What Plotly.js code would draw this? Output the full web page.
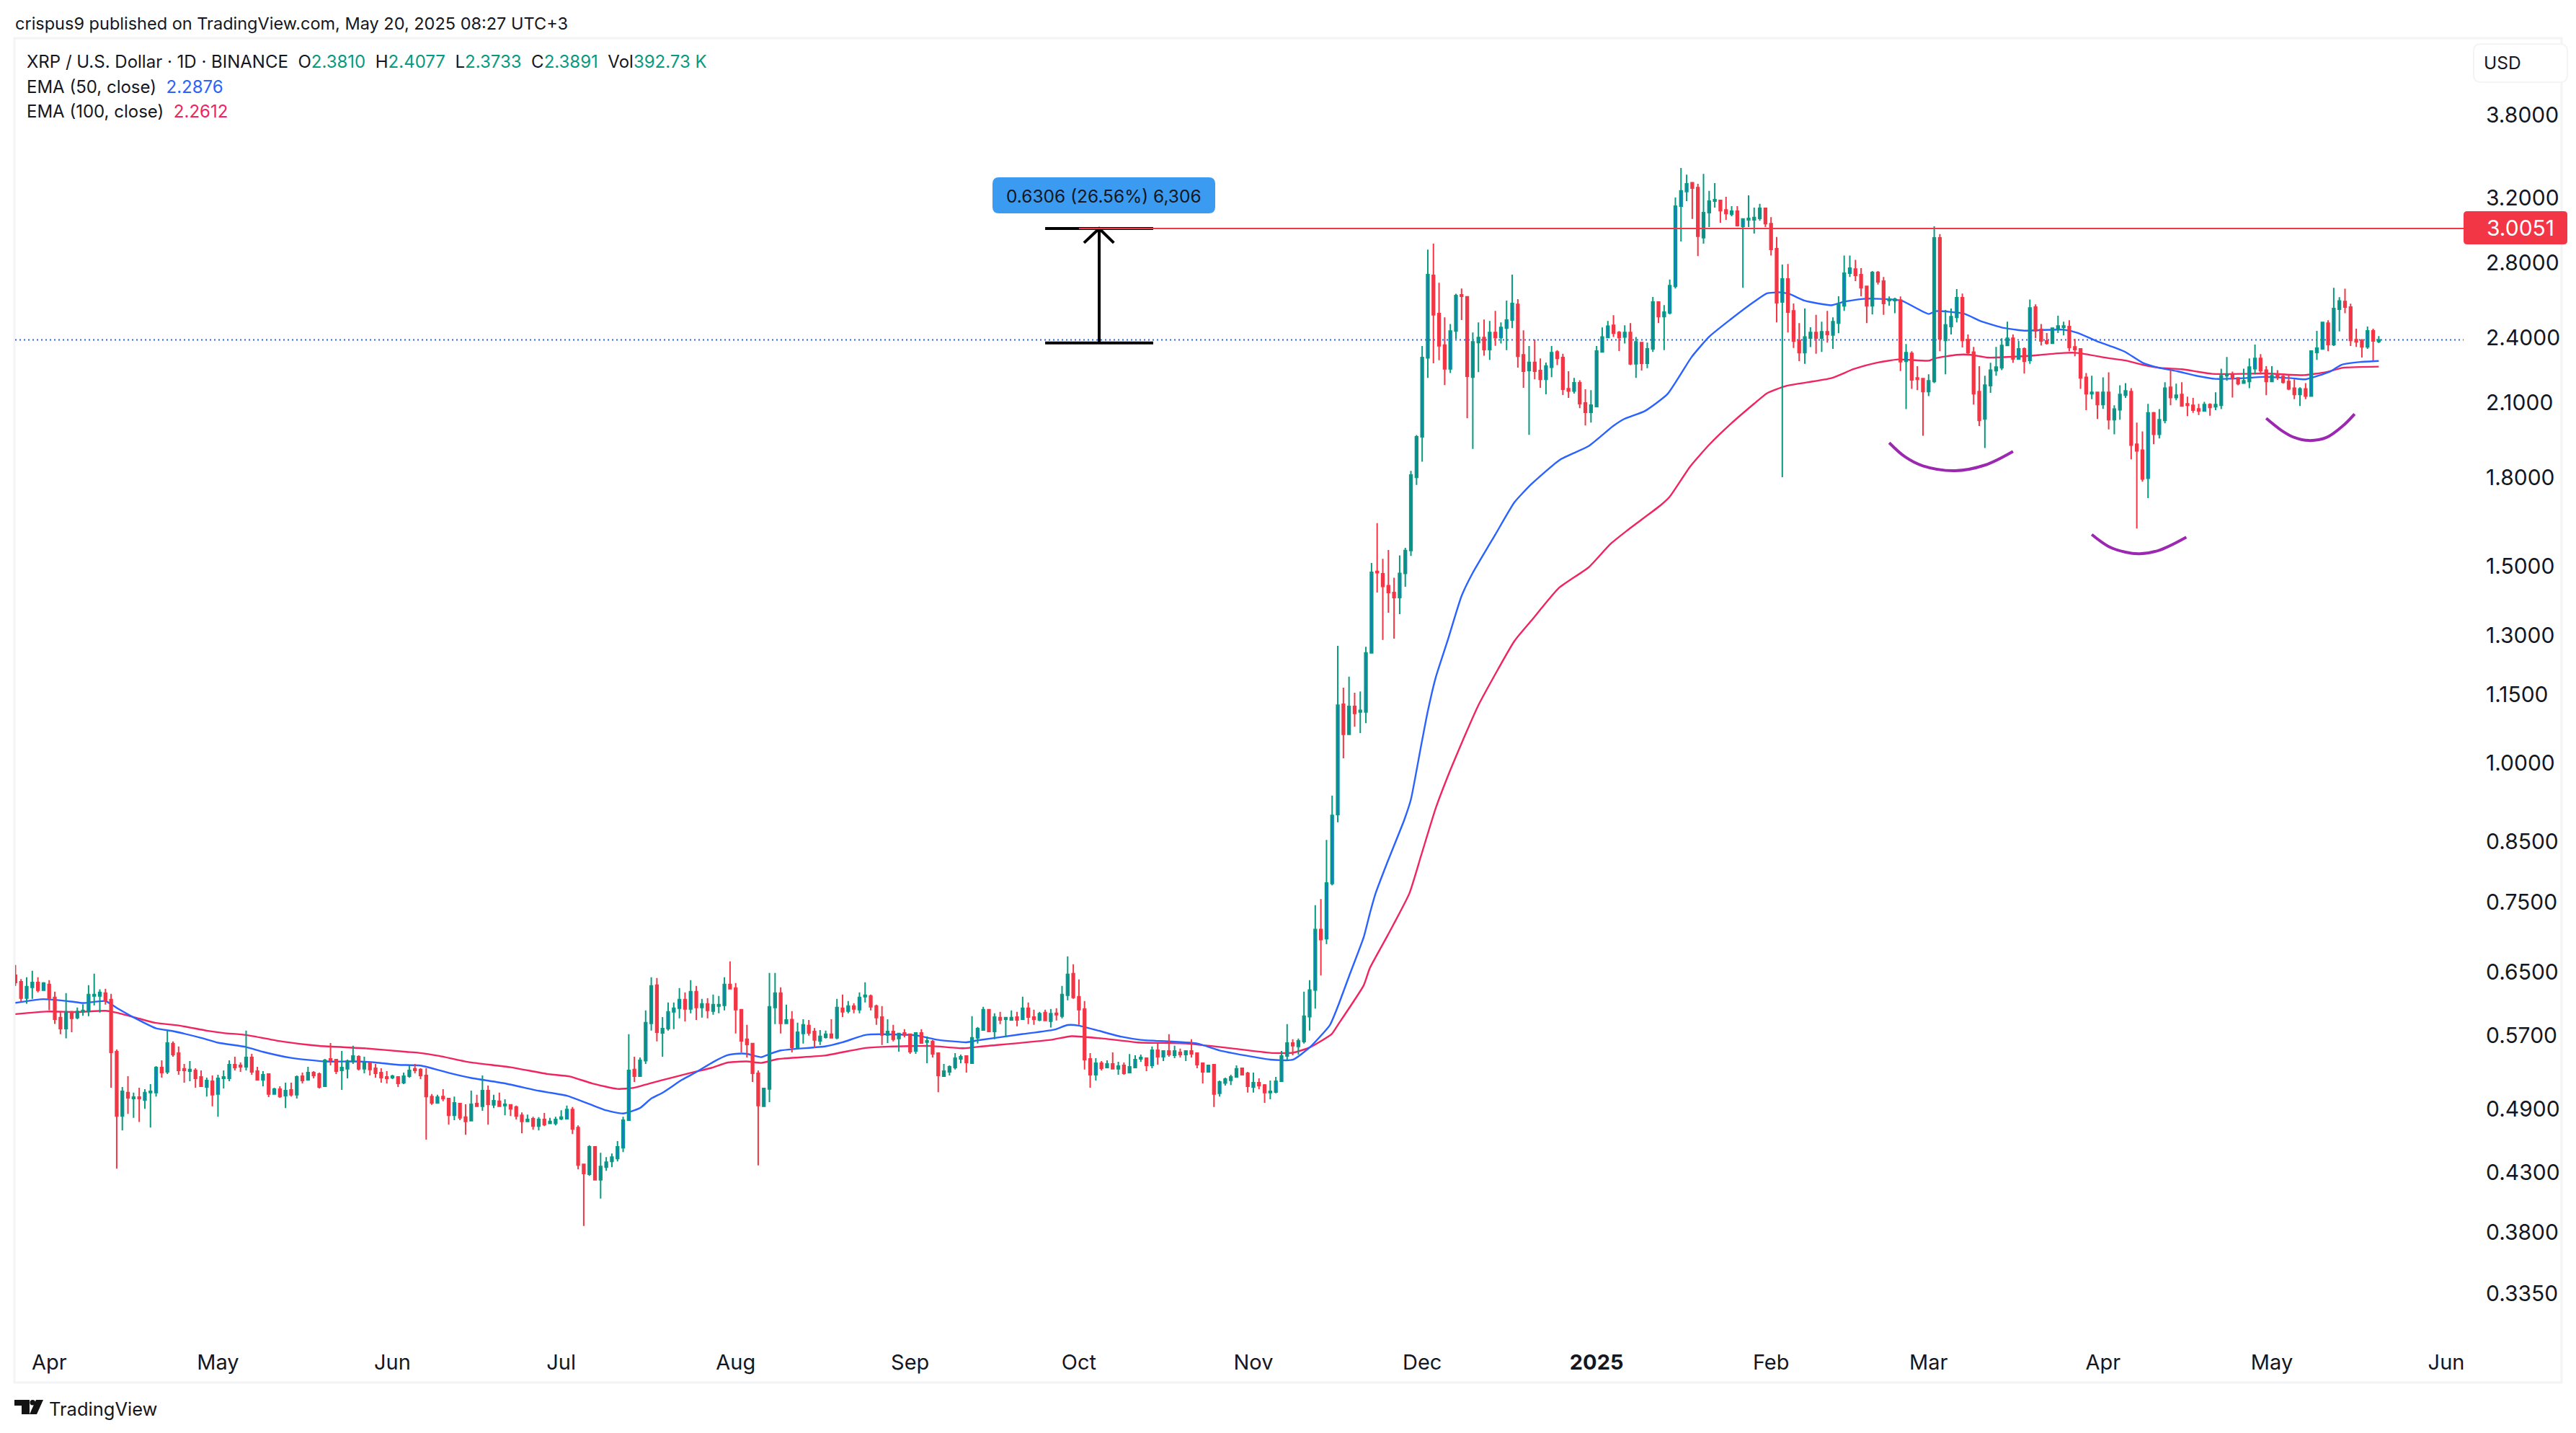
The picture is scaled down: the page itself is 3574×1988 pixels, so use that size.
<!DOCTYPE html>
<html><head><meta charset="utf-8">
<script src="https://cdn.plot.ly/plotly-3.0.1.min.js"></script>
<style>html,body{margin:0;padding:0;background:#fff}#c{width:3574px;height:1988px}</style></head>
<body><div id="c"></div>
<script>
const firstDay = '2024-03-26';
const opens = [
.6453,.6369,.6156,.6295,.6358,.6258,.6333,.6165,.5914,.5783,
.5985,.5914,.5985,.5991,.6184,.6184,.6221,.6138,.5514,.4830,
.5068,.5007,.5022,.4992,.5068,.5068,.5337,.5289,.5606,.5498,
.5323,.5297,.5305,.5235,.5127,.5188,.5053,.5219,.5219,.5369,
.5361,.5345,.5449,.5297,.5204,.5266,.5053,.5104,.5036,.5096,
.5045,.5243,.5204,.5281,.5266,.5135,.5433,.5425,.5305,.5323,
.5401,.5457,.5323,.5385,.5329,.5281,.5235,.5227,.5235,.5173,
.5243,.5323,.5315,.5250,.5028,.4963,.5028,.5007,.4837,.4955,
.4819,.4783,.4955,.4927,.5089,.4942,.4978,.4934,.4942,.4920,
.4837,.4776,.4802,.4730,.4795,.4757,.4757,.4802,.4802,.4895,
.4716,.4372,.4284,.4532,.4235,.4346,.4398,.4424,.4525,.4788,
.5315,.5243,.5412,.5844,.6324,.5732,.5783,.5985,.6030,.6138,
.6021,.6240,.6039,.6083,.5994,.6056,.6065,.6333,.6285,.6012,
.5657,.5606,.5273,.4927,.5107,.6039,.6221,.5844,.5890,.5564,
.5724,.5818,.5749,.5639,.5681,.5716,.5673,.6030,.5994,.6056,
.6012,.6175,.6184,.6056,.5922,.5707,.5749,.5665,.5732,.5716,
.5522,.5732,.5623,.5631,.5498,.5243,.5289,.5337,.5433,.5466,
.5385,.5673,.5766,.6012,.5749,.5914,.5896,.5887,.5922,.5896,
.6030,.5922,.5887,.5976,.5871,.5967,.5933,.6194,.6475,.6175,
.6021,.5433,.5258,.5385,.5337,.5377,.5323,.5361,.5281,.5337,
.5433,.5441,.5361,.5531,.5457,.5522,.5474,.5506,.5482,.5522,
.5498,.5385,.5289,.5369,.5060,.5170,.5198,.5235,.5329,.5273,
.5127,.5173,.5149,.5068,.5075,.5188,.5466,.5614,.5573,.5630,
.5925,.6260,.7091,.6958,.7797,.8988,1.128,1.060,1.123,1.110,
1.110,1.254,1.483,1.476,1.440,1.420,1.405,1.477,1.548,1.800,
1.957,2.302,2.729,2.522,2.364,2.251,2.433,2.622,2.611,2.213,
2.376,2.401,2.342,2.426,2.401,2.448,2.489,2.571,2.317,2.243,
2.281,2.243,2.203,2.258,2.331,2.304,2.161,2.150,2.187,2.098,
2.058,2.083,2.331,2.401,2.462,2.426,2.404,2.426,2.274,2.376,
2.277,2.345,2.583,2.507,2.526,2.668,3.147,3.243,3.303,3.270,
2.949,3.105,3.180,3.185,3.123,3.095,3.114,3.018,3.060,3.060,
3.069,3.133,3.036,2.883,2.583,2.709,2.537,2.387,2.327,2.398,
2.426,2.398,2.430,2.413,2.473,2.563,2.741,2.765,2.733,2.668,
2.563,2.745,2.697,2.591,2.591,2.594,2.286,2.324,2.209,2.206,
2.148,2.193,2.948,2.387,2.456,2.503,2.606,2.390,2.330,2.148,
2.030,2.174,2.242,2.256,2.362,2.397,2.297,2.345,2.290,2.556,
2.441,2.384,2.373,2.441,2.452,2.456,2.355,2.345,2.212,2.138,
2.145,2.091,2.145,2.027,2.069,2.132,2.148,1.927,1.904,1.797,
2.056,1.967,2.024,2.167,2.122,2.135,2.094,2.088,2.073,2.064,
2.091,2.082,2.088,2.219,2.223,2.209,2.186,2.193,2.252,2.300,
2.245,2.193,2.223,2.216,2.193,2.163,2.135,2.160,2.128,2.328,
2.345,2.473,2.366,2.545,2.586,2.556,2.390,2.387,2.355,2.434,
2.3810];
const highs = [
.6592,.6405,.6428,.6515,.6428,.6364,.6390,.6240,.5991,.6221,
.5997,.6039,.6080,.6324,.6475,.6270,.6276,.6212,.5539,.5127,
.5243,.5068,.5120,.5104,.5158,.5353,.5417,.5766,.5631,.5573,
.5377,.5409,.5329,.5305,.5227,.5250,.5258,.5305,.5417,.5457,
.5393,.5758,.5490,.5345,.5297,.5266,.5120,.5135,.5173,.5173,
.5250,.5281,.5345,.5297,.5281,.5433,.5614,.5433,.5522,.5425,
.5581,.5474,.5457,.5401,.5377,.5329,.5297,.5258,.5243,.5281,
.5361,.5377,.5329,.5329,.5053,.5045,.5104,.5015,.5028,.4963,
.4948,.5089,.5045,.5250,.5142,.5045,.5068,.4999,.4948,.4934,
.4866,.4844,.4823,.4819,.4860,.4812,.4823,.4888,.4934,.4920,
.4737,.4379,.4547,.4532,.4478,.4438,.4471,.4586,.4823,.5716,
.5457,.5449,.6003,.6428,.6418,.5922,.6102,.6102,.6285,.6230,
.6390,.6314,.6147,.6156,.6202,.6184,.6428,.6642,.6352,.6021,
.5827,.5614,.5305,.5112,.6485,.6485,.6295,.6074,.5994,.5853,
.5896,.5887,.5789,.5766,.5758,.5896,.6147,.6202,.6120,.6092,
.6230,.6361,.6202,.6074,.6056,.5896,.5827,.5732,.5775,.5724,
.5740,.5775,.5690,.5648,.5506,.5377,.5361,.5498,.5482,.5466,
.5933,.5801,.6048,.6021,.5967,.5985,.5914,.6003,.5985,.6175,
.6102,.6012,.5985,.6012,.6021,.6030,.6314,.6711,.6602,.6399,
.6120,.5498,.5441,.5409,.5417,.5506,.5401,.5393,.5487,.5474,
.5482,.5441,.5573,.5606,.5531,.5716,.5581,.5548,.5531,.5657,
.5498,.5385,.5369,.5369,.5196,.5227,.5258,.5361,.5329,.5289,
.5281,.5219,.5158,.5196,.5235,.5522,.5836,.5657,.5665,.6240,
.6390,.7457,.7550,.853,.9343,1.272,1.167,1.194,1.155,1.158,
1.270,1.509,1.638,1.522,1.550,1.464,1.533,1.557,1.824,1.964,
2.359,2.878,2.913,2.688,2.503,2.469,2.628,2.656,2.614,2.426,
2.477,2.492,2.484,2.537,2.477,2.591,2.733,2.598,2.437,2.359,
2.391,2.300,2.280,2.359,2.339,2.322,2.240,2.209,2.199,2.158,
2.154,2.359,2.451,2.484,2.514,2.433,2.462,2.473,2.404,2.376,
2.376,2.610,2.587,2.567,2.706,3.204,3.405,3.358,3.305,3.295,
3.363,3.248,3.300,3.185,3.209,3.147,3.147,3.065,3.218,3.138,
3.162,3.138,3.077,2.954,2.790,2.794,2.575,2.473,2.549,2.452,
2.516,2.481,2.537,2.503,2.614,2.843,2.843,2.818,2.770,2.672,
2.753,2.753,2.720,2.613,2.606,2.613,2.369,2.334,2.263,2.206,
2.226,3.019,2.971,2.541,2.549,2.653,2.629,2.416,2.355,2.263,
2.219,2.279,2.355,2.397,2.481,2.416,2.384,2.352,2.597,2.571,
2.469,2.423,2.448,2.511,2.481,2.488,2.394,2.349,2.232,2.219,
2.148,2.212,2.235,2.088,2.176,2.186,2.163,2.015,1.979,2.094,
2.060,2.072,2.190,2.248,2.183,2.190,2.126,2.120,2.094,2.103,
2.097,2.145,2.252,2.307,2.238,2.212,2.252,2.300,2.366,2.320,
2.263,2.263,2.245,2.229,2.223,2.203,2.167,2.186,2.335,2.434,
2.481,2.488,2.660,2.609,2.655,2.574,2.445,2.394,2.456,2.445,
2.4077];
const lows = [
.6314,.6110,.6086,.6147,.6230,.6258,.6006,.5838,.5716,.5667,
.5740,.5896,.5938,.5933,.6065,.5976,.6074,.5120,.4334,.4689,
.4852,.4812,.4770,.4902,.4716,.5028,.5227,.5266,.5457,.5258,
.5173,.5188,.5120,.5127,.5028,.4927,.4823,.5112,.5188,.5305,
.5289,.5305,.5258,.5196,.5135,.5022,.5050,.5015,.4909,.5028,
.5007,.5165,.5196,.5219,.5112,.5127,.5361,.5266,.5096,.5219,
.5377,.5305,.5273,.5250,.5227,.5173,.5165,.5212,.5127,.5158,
.5227,.5273,.5212,.4600,.4942,.4955,.4978,.4745,.4788,.4788,
.4647,.4776,.4920,.4881,.4745,.4909,.4927,.4837,.4830,.4795,
.4660,.4770,.4695,.4689,.4730,.4752,.4737,.4788,.4795,.4654,
.4327,.3851,.4270,.4229,.4075,.4314,.4346,.4398,.4484,.4783,
.5180,.5243,.5377,.5758,.5631,.5457,.5758,.5775,.5905,.5868,
.5967,.5887,.5914,.5905,.5949,.5967,.6003,.6267,.5724,.5506,
.5449,.5180,.4362,.4927,.4970,.5836,.5724,.5836,.5506,.5539,
.5606,.5699,.5556,.5590,.5665,.5673,.5657,.5922,.5967,.5967,
.5967,.6102,.6003,.5827,.5590,.5614,.5631,.5514,.5681,.5490,
.5490,.5606,.5385,.5449,.5073,.5243,.5250,.5315,.5385,.5281,
.5385,.5606,.5758,.5740,.5657,.5836,.5681,.5879,.5810,.5887,
.5836,.5827,.5871,.5871,.5795,.5879,.5905,.6129,.6147,.5827,
.5315,.5120,.5196,.5305,.5329,.5323,.5258,.5258,.5273,.5329,
.5401,.5297,.5329,.5369,.5409,.5457,.5441,.5449,.5409,.5449,
.5329,.5165,.5281,.4920,.5028,.5142,.5149,.5227,.5250,.5068,
.5068,.5104,.4963,.4999,.5060,.5180,.5417,.5474,.5482,.5606,
.5758,.6026,.6452,.6881,.7768,.8844,1.009,1.060,1.077,1.063,
1.085,1.254,1.420,1.288,1.362,1.291,1.358,1.437,1.531,1.772,
1.859,2.209,2.277,2.291,2.177,2.232,2.394,2.489,2.033,1.909,
2.236,2.313,2.293,2.360,2.372,2.339,2.448,2.257,2.165,1.965,
2.203,2.165,2.136,2.213,2.268,2.133,2.120,2.139,2.076,2.003,
2.015,2.083,2.331,2.401,2.404,2.335,2.372,2.268,2.209,2.243,
2.254,2.331,2.473,2.339,2.518,2.656,2.926,3.180,3.065,2.840,
2.913,3.014,3.138,3.041,3.060,3.082,3.018,2.660,3.014,2.974,
3.054,3.014,2.843,2.477,1.801,2.426,2.350,2.287,2.274,2.354,
2.322,2.331,2.376,2.345,2.422,2.537,2.720,2.697,2.614,2.473,
2.518,2.678,2.516,2.563,2.524,2.241,2.072,2.160,2.154,1.961,
2.128,2.186,2.334,2.226,2.416,2.477,2.352,2.315,2.091,2.001,
1.912,2.142,2.219,2.245,2.359,2.279,2.297,2.229,2.274,2.397,
2.362,2.366,2.373,2.423,2.412,2.334,2.310,2.160,2.067,2.115,
2.030,2.073,1.987,1.967,2.027,2.120,1.868,1.620,1.784,1.725,
1.927,1.950,2.012,2.088,2.110,2.085,2.042,2.056,2.047,2.064,
2.044,2.067,2.072,2.196,2.122,2.176,2.183,2.163,2.226,2.226,
2.132,2.193,2.200,2.183,2.154,2.115,2.085,2.115,2.126,2.293,
2.342,2.334,2.359,2.431,2.524,2.359,2.355,2.304,2.345,2.290,
2.3733];
const closes = [
.6358,.6156,.6304,.6358,.6258,.6352,.6156,.5896,.5783,.5985,
.5905,.5991,.6003,.6202,.6202,.6230,.6129,.5506,.4830,.5081,
.5015,.5022,.5007,.5068,.5081,.5337,.5281,.5614,.5482,.5305,
.5305,.5315,.5219,.5135,.5196,.5045,.5219,.5235,.5369,.5337,
.5345,.5449,.5289,.5204,.5258,.5053,.5104,.5028,.5089,.5045,
.5235,.5196,.5281,.5250,.5127,.5417,.5417,.5297,.5337,.5409,
.5466,.5323,.5385,.5315,.5273,.5227,.5219,.5243,.5165,.5243,
.5305,.5305,.5250,.5028,.4963,.5022,.5007,.4837,.4963,.4812,
.4776,.4948,.4927,.5089,.4948,.4985,.4927,.4948,.4902,.4830,
.4776,.4795,.4730,.4795,.4745,.4776,.4795,.4819,.4895,.4702,
.4365,.4290,.4532,.4235,.4353,.4392,.4438,.4532,.4788,.5305,
.5243,.5417,.5853,.6314,.5740,.5783,.5985,.6030,.6138,.6021,
.6240,.6039,.6083,.6003,.6074,.6074,.6333,.6276,.6012,.5639,
.5597,.5273,.4934,.5112,.6048,.6221,.5844,.5887,.5564,.5740,
.5827,.5732,.5648,.5690,.5716,.5673,.6039,.5985,.6056,.6021,
.6165,.6194,.6048,.5914,.5707,.5749,.5657,.5724,.5707,.5514,
.5732,.5614,.5639,.5490,.5250,.5297,.5345,.5441,.5457,.5393,
.5673,.5783,.6012,.5749,.5922,.5887,.5914,.5914,.5887,.6030,
.5922,.5896,.5964,.5879,.5964,.5949,.6202,.6465,.6165,.6012,
.5425,.5258,.5385,.5329,.5377,.5323,.5353,.5273,.5345,.5425,
.5449,.5361,.5531,.5457,.5522,.5482,.5522,.5482,.5522,.5490,
.5369,.5289,.5361,.5053,.5180,.5212,.5235,.5323,.5258,.5135,
.5173,.5142,.5068,.5081,.5188,.5466,.5614,.5581,.5639,.5933,
.6260,.7091,.6947,.7804,.8970,1.126,1.060,1.123,1.107,1.114,
1.254,1.480,1.479,1.438,1.420,1.405,1.477,1.548,1.809,1.957,
2.304,2.733,2.516,2.360,2.251,2.433,2.618,2.614,2.217,2.380,
2.401,2.342,2.426,2.401,2.451,2.489,2.575,2.310,2.240,2.281,
2.240,2.203,2.264,2.327,2.300,2.158,2.150,2.187,2.095,2.058,
2.089,2.335,2.404,2.458,2.422,2.401,2.426,2.274,2.380,2.277,
2.345,2.583,2.507,2.530,2.672,3.147,3.248,3.295,3.266,2.958,
3.105,3.180,3.190,3.118,3.100,3.114,3.023,3.065,3.069,3.074,
3.133,3.036,2.879,2.579,2.709,2.530,2.383,2.327,2.404,2.426,
2.398,2.430,2.416,2.481,2.571,2.741,2.770,2.729,2.660,2.563,
2.745,2.693,2.575,2.598,2.598,2.284,2.327,2.200,2.203,2.148,
2.196,2.948,2.394,2.464,2.507,2.606,2.387,2.327,2.138,2.024,
2.177,2.245,2.259,2.362,2.397,2.297,2.345,2.286,2.552,2.434,
2.384,2.373,2.448,2.459,2.459,2.352,2.342,2.209,2.138,2.145,
2.091,2.145,2.027,2.072,2.135,2.151,1.924,1.901,1.794,2.056,
1.967,2.027,2.163,2.122,2.132,2.085,2.088,2.067,2.064,2.091,
2.079,2.091,2.219,2.226,2.206,2.183,2.196,2.259,2.300,2.242,
2.193,2.219,2.212,2.190,2.160,2.135,2.160,2.128,2.335,2.349,
2.477,2.366,2.549,2.589,2.556,2.387,2.380,2.355,2.434,2.384,
2.3891];

const ema50Day = [1,6,11,13,17,19,22,26,29,34,37,42,45,50,56,61,65,69,73,78,82,88,94,99,103,106,109,112,114,116,119.5,122,125,127.5,129,131,133.5,135,137,145,148,152,155,161,165,170,172,180,185.5,188,190,197.5,201,211,215,224,228,231,234.6,236,238,240.6,241.7,242.7,244.9,247.8,249,250.8,252,253.4,255.5,258,260,264,267.4,270.4,275.5,280.6,284.9,286.9,290.6,294.6,298.9,302,305.7,310,312.3,314.6,316.3,319,323.7,326,329.4,332.3,336.2,341,342.3,347.3,350.3,354,358,360.7,365,367.5,371,374.2,376,379,381.6,385.3,388.4,392,397,400.6,405.5,408,412.3,414.4,417.8,421];
const ema50Val = [.6098,.6144,.6113,.6095,.612,.6035,.5918,.5786,.5752,.5673,.5617,.5567,.5512,.5444,.5404,.5404,.5393,.5367,.5359,.5279,.5223,.5165,.5087,.5036,.495,.4886,.4855,.491,.5007,.5067,.5205,.5287,.5398,.5474,.549,.549,.5452,.5487,.5528,.5576,.5622,.5707,.5716,.5702,.565,.5622,.5644,.5718,.5768,.5825,.5818,.5687,.565,.5608,.5528,.5425,.5423,.5562,.5825,.605,.644,.6978,.733,.7634,.8166,.8885,.9272,1.035,1.112,1.1915,1.285,1.41,1.479,1.60,1.71,1.775,1.867,1.92,2.0,2.03,2.064,2.137,2.307,2.405,2.49,2.585,2.63,2.635,2.626,2.59,2.566,2.585,2.60,2.60,2.59,2.52,2.535,2.522,2.483,2.451,2.435,2.438,2.44,2.424,2.382,2.35,2.33,2.28,2.258,2.239,2.22,2.205,2.208,2.214,2.208,2.203,2.238,2.27,2.283,2.2876];
const ema100Day = [1,6.5,12,17,19,23,26,30,35,38,42,48.4,55,63,70.5,72.7,76.3,81.5,89,95.5,99.5,103.5,108,110.9,113.7,118,121,124.7,127.6,131,133.6,136.5,145,152,156.3,163.7,169.5,172.5,185,188.7,194.5,200.5,209,216.6,224,228,231,234.9,236,240.6,241.7,244.9,248.7,250.8,253.4,256,258.5,261,267.4,270.4,275.3,280.6,284.4,287.4,293.4,295,298.6,302,306,310,312.3,315.7,323.7,327.7,331.7,335.6,341,342.3,346,348.5,351.5,357.7,360.7,365,367.5,373,376,379,382.2,386,391.4,397,400.6,407.7,411.7,414.7,421];
const ema100Val = [.5958,.5989,.5984,.5999,.5975,.5902,.585,.582,.5758,.573,.5707,.5631,.558,.5553,.5512,.5501,.5466,.5398,.534,.5267,.524,.5165,.5107,.5118,.5165,.5232,.5279,.5333,.5393,.5404,.5388,.5431,.5472,.5556,.5573,.5579,.5553,.5573,.565,.5693,.5664,.562,.5608,.5556,.5501,.5502,.5562,.5717,.5825,.632,.655,.7012,.7634,.8255,.9103,.985,1.055,1.126,1.285,1.34,1.4333,1.4957,1.5683,1.613,1.7,1.73,1.84,1.925,2.013,2.095,2.141,2.173,2.208,2.25,2.279,2.295,2.289,2.301,2.317,2.317,2.304,2.31,2.316,2.326,2.326,2.301,2.29,2.27,2.255,2.249,2.228,2.228,2.23,2.222,2.236,2.256,2.2612];

const arcDays = [[334,336.8,340,345.7,351,356],[370,373,376,378.5,382,386.8],[401,403.7,406,408.6,411.7,414.7,416.7]];
const arcVals = [[1.933,1.878,1.843,1.825,1.846,1.899],[1.60,1.561,1.543,1.538,1.549,1.591],[2.033,1.983,1.954,1.942,1.954,2.003,2.051]];
const priceRangeTop = 3.0051, priceRangeBase = 2.3745, arrowWing = 2.918, lastClose = 2.3891;
const priceTicks = [3.8,3.2,2.8,2.4,2.1,1.8,1.5,1.3,1.15,1.0,.85,.75,.65,.57,.49,.43,.38,.335];
const monthTicks = ['2024-04-01','2024-05-01','2024-06-01','2024-07-01','2024-08-01','2024-09-01','2024-10-01','2024-11-01','2024-12-01','2025-01-01','2025-02-01','2025-03-01','2025-04-01','2025-05-01','2025-06-01'];
const monthLabels = ['Apr','May','Jun','Jul','Aug','Sep','Oct','Nov','Dec','<b>2025</b>','Feb','Mar','Apr','May','Jun'];

const baseMs = Date.parse(firstDay+'T00:00:00Z');
const dayAt = n => new Date(baseMs+(n-1)*864e5).toISOString().slice(0,19).replace('T',' ');
const dates = opens.map((_,i)=>dayAt(i+1));
const rangeL = dayAt(0.95), rangeR = dayAt(436.07);

const L=21,R=3418,T=53,B=1860;
const fx = p => (p-L)/(R-L), fy = p => 1-(p-T)/(B-T);
const font='Inter, "Liberation Sans", sans-serif', ink='#131722';
const green='#089981', red='#F23645', blue='#2962FF', pink='#F0245F', purple='#9C27B0';

function line(xs,ys,color,width,extra){return {type:'scatter',mode:'lines',x:xs,y:ys,hoverinfo:'skip',showlegend:false,line:Object.assign({color,width},extra||{}),zorder:2};}

const traces = [
 Object.assign(line(ema100Day.map(dayAt),ema100Val,pink,2.4,{shape:'spline',smoothing:0.5}),{zorder:0}),
 Object.assign(line(ema50Day.map(dayAt),ema50Val,blue,2.4,{shape:'spline',smoothing:0.5}),{zorder:0}),
 Object.assign(line([rangeL,rangeR],[lastClose,lastClose],blue,2,{dash:'2px,4px'}),{zorder:0}),
 {type:'candlestick',x:dates,open:opens,high:highs,low:lows,close:closes,hoverinfo:'skip',showlegend:false,whiskerwidth:0,zorder:1,
  increasing:{line:{color:green,width:2},fillcolor:'#1976D2'},
  decreasing:{line:{color:red,width:2},fillcolor:red}},
 line([dayAt(184),dayAt(203.2)],[priceRangeTop,priceRangeTop],'#000',4,{}),
 line([dayAt(184),dayAt(203.2)],[priceRangeBase,priceRangeBase],'#000',4,{}),
 line([dayAt(193.6),dayAt(193.6)],[priceRangeBase,priceRangeTop],'#000',4,{}),
 line([dayAt(190.9),dayAt(193.6),dayAt(196.2)],[arrowWing,priceRangeTop,arrowWing],'#000',4,{}),
 line([dayAt(190),rangeR],[priceRangeTop,priceRangeTop],red,2,{}),
];
arcDays.forEach((d,i)=>traces.push(line(d.map(dayAt),arcVals[i],purple,4,{shape:'spline',smoothing:1})));

function rr(x0,y0,x1,y1,r,fill,stroke,w){
 const a=(x,y)=>fx(x)+','+fy(y);
 return {type:'path',xref:'paper',yref:'paper',layer:'above',fillcolor:fill,line:{color:stroke,width:w},
  path:'M'+a(x0+r,y0)+' L'+a(x1-r,y0)+' Q'+a(x1,y0)+' '+a(x1,y0+r)+' L'+a(x1,y1-r)+' Q'+a(x1,y1)+' '+a(x1-r,y1)+' L'+a(x0+r,y1)+' Q'+a(x0,y1)+' '+a(x0,y1-r)+' L'+a(x0,y0+r)+' Q'+a(x0,y0)+' '+a(x0+r,y0)+' Z'};
}
function poly(pts,fill){return {type:'path',xref:'paper',yref:'paper',layer:'above',fillcolor:fill,line:{width:0},path:'M'+pts.map(p=>fx(p[0])+','+fy(p[1])).join(' L')+' Z'};}
const shapes=[
 {type:'rect',xref:'paper',yref:'paper',x0:fx(20),x1:fx(3554),y0:fy(53),y1:fy(1918),line:{color:'#F3F4F6',width:3},fillcolor:'rgba(0,0,0,0)',layer:'below'},
 rr(3432,61,3562,114,10,'#FFFFFF','#F3F4F6',2),
 rr(3418,293,3562,339,5,red,red,0),
 rr(1377,246,1686,296,9,'#3A9BF0','#3A9BF0',0),
 poly([[20,1942],[41,1942],[41,1962],[30,1962],[30,1950],[20,1950]],'#131313'),
 poly([[50,1942],[60,1942],[51,1962],[41,1962]],'#131313'),
 {type:'circle',xref:'paper',yref:'paper',layer:'above',fillcolor:'#131313',line:{width:0},x0:fx(41.5),x1:fx(49),y0:fy(1942),y1:fy(1949.5)},
];
function text(t,x,y,size,color,anchor){return {text:t,xref:'paper',yref:'paper',x:fx(x),y:fy(y),xanchor:anchor||'left',yanchor:'middle',showarrow:false,align:'left',font:{family:font,size,color}};}
const c=(v,col)=>'<span style="color:'+col+'">'+v+'</span>';
const annotations=[
 text('crispus9 published on TradingView.com, May 20, 2025 08:27 UTC+3',19,32,23.5,ink),
 text('XRP / U.S. Dollar · 1D · BINANCE \u00a0O'+c('2.3810',green)+'\u00a0 H'+c('2.4077',green)+'\u00a0 L'+c('2.3733',green)+'\u00a0 C'+c('2.3891',green)+'\u00a0 Vol'+c('392.73 K',green),35,85,24,ink),
 text('EMA (50, close) \u00a0'+c('2.2876',blue),35,120,24,ink),
 text('EMA (100, close) \u00a0'+c('2.2612',pink),35,154,24,ink),
 text('USD',3444,87,24.5,ink),
 text('3.0051',3448,316,30,'#FFFFFF'),
 text('0.6306 (26.56%) 6,306',1531,272,24.5,ink,'center'),
 text('TradingView',66,1954,25.5,ink),
];

const layout={width:3574,height:1988,paper_bgcolor:'#fff',plot_bgcolor:'#fff',showlegend:false,dragmode:false,hovermode:false,
 margin:{l:L,r:3574-R,t:T,b:1988-B,pad:0},
 xaxis:{type:'date',range:[rangeL,rangeR],rangeslider:{visible:false},showgrid:false,zeroline:false,showline:false,ticks:'',tickmode:'array',tickvals:monthTicks,ticktext:monthLabels,tickangle:0,tickfont:{family:font,size:29,color:ink},ticklabelstandoff:10,automargin:false},
 yaxis:{type:'log',side:'right',range:[Math.log10(.304),Math.log10(4.448)],showgrid:false,zeroline:false,showline:false,ticks:'',tickmode:'array',tickvals:priceTicks,ticktext:priceTicks.map(v=>v.toFixed(4)),tickfont:{family:font,size:30,color:ink},ticklabelstandoff:30,automargin:false},
 boxgap:0.4,shapes,annotations};
Plotly.newPlot('c',traces,layout,{displayModeBar:false,staticPlot:true});
</script></body></html>
